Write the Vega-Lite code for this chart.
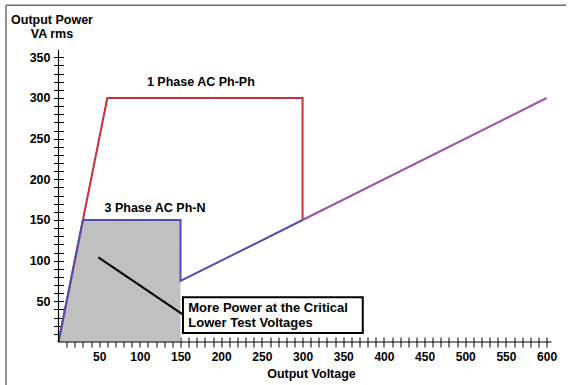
{
  "$schema": "https://vega.github.io/schema/vega-lite/v6.json",
  "width": 493,
  "height": 292,
  "autosize": {"type": "none"},
  "padding": {"left": 58.5, "top": 50, "right": 17.5, "bottom": 43},
  "background": "white",
  "config": {"view": {"stroke": null}, "font": "Liberation Sans"},
  "datasets": {
    "one": [{"k": 1}],
    "lines": [
      {"series": "1 Phase AC Ph-Ph", "i": 0, "x": 0, "y": 0},
      {"series": "1 Phase AC Ph-Ph", "i": 1, "x": 60, "y": 300},
      {"series": "1 Phase AC Ph-Ph", "i": 2, "x": 300, "y": 300},
      {"series": "1 Phase AC Ph-Ph", "i": 3, "x": 300, "y": 150},
      {"series": "3 Phase AC Ph-N", "i": 0, "x": 0, "y": 0},
      {"series": "3 Phase AC Ph-N", "i": 1, "x": 30, "y": 150},
      {"series": "3 Phase AC Ph-N", "i": 2, "x": 150, "y": 150},
      {"series": "3 Phase AC Ph-N", "i": 3, "x": 150, "y": 75},
      {"series": "3 Phase AC Ph-N", "i": 4, "x": 300, "y": 150},
      {"series": "Both", "i": 0, "x": 300, "y": 150},
      {"series": "Both", "i": 1, "x": 600, "y": 300}
    ],
    "area": [
      {"x": 0, "y": 0},
      {"x": 30, "y": 150},
      {"x": 150, "y": 150}
    ],
    "pointer": [{"x": 49, "y": 104, "x2": 154, "y2": 33}],
    "box": [{"x": 153, "x2": 374, "y": 55, "y2": 11, "label": "More Power at the Critical\nLower Test Voltages", "lx": 159.5, "ly": 37}],
    "labels": [
      {"x": 175, "y": 315, "label": "1 Phase AC Ph-Ph"},
      {"x": 118.6, "y": 160, "label": "3 Phase AC Ph-N"}
    ]
  },
  "encoding": {
    "x": {
      "type": "quantitative",
      "scale": {"domain": [0, 606], "nice": false, "zero": false},
      "axis": {
        "title": "Output Voltage",
        "titleFont": "Liberation Sans",
        "titleFontSize": 12.5,
        "titleFontWeight": "bold",
        "titleColor": "black",
        "titleAlign": "center",
        "titleBaseline": "alphabetic",
        "titleX": 252.5,
        "titleY": 40,
        "values": [10,20,30,40,50,60,70,80,90,100,110,120,130,140,150,160,170,180,190,200,210,220,230,240,250,260,270,280,290,300,310,320,330,340,350,360,370,380,390,400,410,420,430,440,450,460,470,480,490,500,510,520,530,540,550,560,570,580,590,600],
        "labelExpr": "datum.value % 50 == 0 ? datum.label : ''",
        "labelFont": "Liberation Sans",
        "labelFontSize": 12,
        "labelFontWeight": "bold",
        "labelColor": "black",
        "labelPadding": 4,
        "labelFlush": false,
        "labelOverlap": false,
        "labelBound": false,
        "tickSize": 10,
        "tickColor": "black",
        "tickWidth": 1,
        "offset": -5,
        "domain": false,
        "grid": false
      }
    },
    "y": {
      "type": "quantitative",
      "scale": {"domain": [0, 359], "nice": false, "zero": false},
      "axis": {
        "title": ["Output Power", "VA rms"],
        "titleFont": "Liberation Sans",
        "titleFontSize": 12.5,
        "titleFontWeight": "bold",
        "titleColor": "black",
        "titleAngle": 0,
        "titleAlign": "center",
        "titleBaseline": "alphabetic",
        "titleLineHeight": 14,
        "titleX": -12,
        "titleY": -27,
        "values": [10,20,30,40,50,60,70,80,90,100,110,120,130,140,150,160,170,180,190,200,210,220,230,240,250,260,270,280,290,300,310,320,330,340,350],
        "labelExpr": "datum.value % 50 == 0 ? datum.label : ''",
        "labelFont": "Liberation Sans",
        "labelFontSize": 12.5,
        "labelFontWeight": "bold",
        "labelColor": "black",
        "labelPadding": 3.5,
        "labelFlush": false,
        "labelOverlap": false,
        "labelBound": false,
        "tickSize": 10,
        "tickColor": "black",
        "tickWidth": 1,
        "offset": -5,
        "domain": false,
        "grid": false
      }
    }
  },
  "layer": [
    {
      "data": {"name": "area"},
      "mark": {"type": "area", "color": "#c0c0c0", "opacity": 1, "clip": false},
      "encoding": {
        "x": {"field": "x"},
        "y": {"field": "y"}
      }
    },
    {
      "data": {"name": "one"},
      "mark": {"type": "rule", "color": "#6e6e6e", "strokeWidth": 1.5, "clip": false},
      "encoding": {
        "x": {"datum": -64.5},
        "x2": {"datum": 624},
        "y": {"datum": 414},
        "y2": {"datum": 414}
      }
    },
    {
      "data": {"name": "one"},
      "mark": {"type": "rule", "color": "#6e6e6e", "strokeWidth": 1.5, "clip": false},
      "encoding": {
        "x": {"datum": -64.5},
        "x2": {"datum": -64.5},
        "y": {"datum": 414},
        "y2": {"datum": -60}
      }
    },
    {
      "data": {"name": "lines"},
      "mark": {"type": "line", "strokeWidth": 2, "clip": false},
      "encoding": {
        "x": {"field": "x"},
        "y": {"field": "y"},
        "color": {
          "field": "series",
          "type": "nominal",
          "scale": {"domain": ["1 Phase AC Ph-Ph", "3 Phase AC Ph-N", "Both"], "range": ["#cc2b3a", "#4f4fae", "#9d52a6"]},
          "legend": null
        },
        "order": {"field": "i", "type": "quantitative"}
      }
    },
    {
      "data": {"name": "one"},
      "mark": {"type": "rule", "color": "black", "strokeWidth": 1.2, "clip": false},
      "encoding": {
        "x": {"datum": 0},
        "x2": {"datum": 606},
        "y": {"datum": 0},
        "y2": {"datum": 0}
      }
    },
    {
      "data": {"name": "one"},
      "mark": {"type": "rule", "color": "black", "strokeWidth": 1.2, "clip": false},
      "encoding": {
        "x": {"datum": 0},
        "x2": {"datum": 0},
        "y": {"datum": 0},
        "y2": {"datum": 359}
      }
    },
    {
      "data": {"name": "pointer"},
      "mark": {"type": "rule", "color": "black", "strokeWidth": 2, "clip": false},
      "encoding": {
        "x": {"field": "x"},
        "y": {"field": "y"},
        "x2": {"field": "x2"},
        "y2": {"field": "y2"}
      }
    },
    {
      "data": {"name": "box"},
      "mark": {"type": "rect", "fill": "white", "stroke": "black", "strokeWidth": 2, "clip": false},
      "encoding": {
        "x": {"field": "x"},
        "y": {"field": "y"},
        "x2": {"field": "x2"},
        "y2": {"field": "y2"}
      }
    },
    {
      "data": {"name": "box"},
      "mark": {"type": "text", "align": "left", "baseline": "alphabetic", "font": "Liberation Sans", "fontSize": 13, "fontWeight": "bold", "color": "black", "lineBreak": "\n", "lineHeight": 15, "clip": false},
      "encoding": {
        "x": {"field": "lx"},
        "y": {"field": "ly"},
        "text": {"field": "label"}
      }
    },
    {
      "data": {"name": "labels"},
      "mark": {"type": "text", "align": "center", "baseline": "alphabetic", "font": "Liberation Sans", "fontSize": 12.5, "fontWeight": "bold", "color": "black", "clip": false},
      "encoding": {
        "x": {"field": "x"},
        "y": {"field": "y"},
        "text": {"field": "label"}
      }
    }
  ]
}
